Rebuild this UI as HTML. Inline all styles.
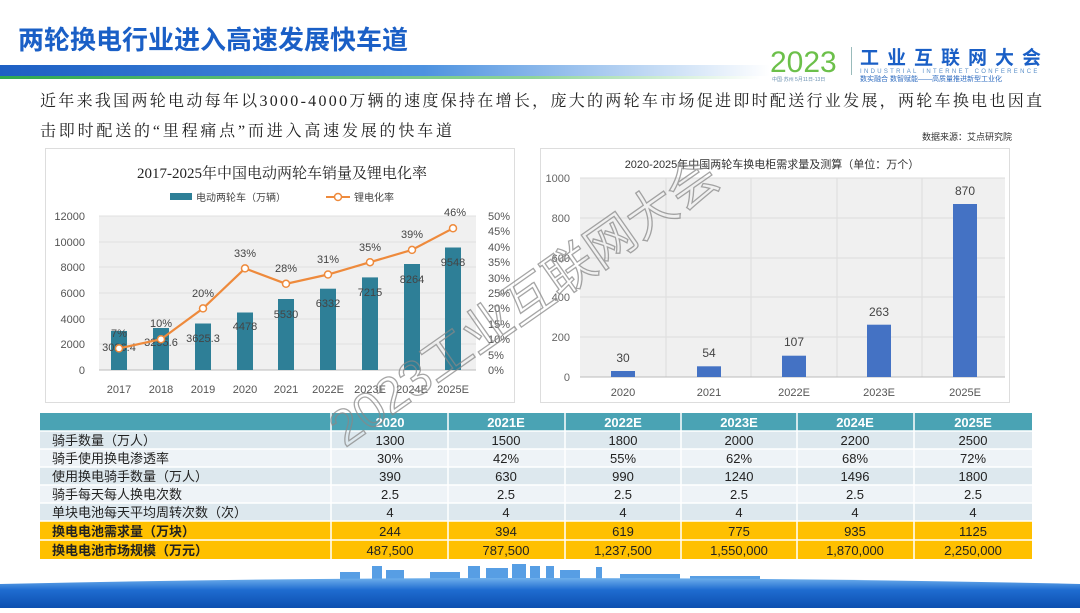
<!DOCTYPE html>
<html><head><meta charset="utf-8"><style>
body{margin:0;width:1080px;height:608px;overflow:hidden;background:#fff;font-family:"Liberation Sans","Noto Sans CJK SC",sans-serif}
</style></head><body>
<svg width="1080" height="608" viewBox="0 0 1080 608" xmlns="http://www.w3.org/2000/svg" font-family="Liberation Sans, Noto Sans CJK SC, sans-serif">
<defs>
<linearGradient id="hb" x1="0" x2="1"><stop offset="0" stop-color="#1d5fc4"/><stop offset="0.55" stop-color="#4d92e0"/><stop offset="1" stop-color="#fff"/></linearGradient>
<linearGradient id="gb" x1="0" x2="1"><stop offset="0" stop-color="#2fa84f"/><stop offset="0.7" stop-color="#8ed49a"/><stop offset="1" stop-color="#fff"/></linearGradient>
<linearGradient id="bot" x1="0" y1="0" x2="0" y2="1"><stop offset="0" stop-color="#6fb0ec"/><stop offset="0.4" stop-color="#1f6cd0"/><stop offset="1" stop-color="#0d4fb0"/></linearGradient>
</defs>
<text x="18" y="49" font-size="26" font-weight="bold" fill="#1a5fc6">两轮换电行业进入高速发展快车道</text>
<rect x="0" y="65" width="770" height="11" fill="url(#hb)"/>
<rect x="0" y="76" width="760" height="3" fill="url(#gb)"/>
<text x="770" y="72" font-size="30" fill="#6cc04a">2023</text>
<rect x="851" y="47" width="1" height="28" fill="#9bb"/>
<text x="860" y="64" font-size="19" font-weight="bold" fill="#1a5fc6" letter-spacing="8">工业互联网大会</text>
<text x="860" y="73" font-size="6" fill="#5a8fc8" letter-spacing="2.3">INDUSTRIAL INTERNET CONFERENCE</text>
<text x="860" y="81" font-size="7" fill="#2f6cc0">数实融合  数智赋能——高质量推进新型工业化</text>
<text x="772" y="81" font-size="5" fill="#6a8fb0">中国·苏州 5月11日-13日</text>
<text x="40" y="106" font-size="16" fill="#222" textLength="1002" lengthAdjust="spacing" font-family="Liberation Serif, Noto Serif CJK SC, serif">近年来我国两轮电动每年以3000-4000万辆的速度保持在增长，庞大的两轮车市场促进即时配送行业发展，两轮车换电也因直</text>
<text x="40" y="136" font-size="16" fill="#222" textLength="412" lengthAdjust="spacing" font-family="Liberation Serif, Noto Serif CJK SC, serif">击即时配送的“里程痛点”而进入高速发展的快车道</text>
<text x="922" y="140" font-size="9" fill="#333">数据来源：艾点研究院</text>

<!-- left chart -->
<rect x="45.5" y="148.5" width="469" height="254" fill="#fff" stroke="#ddd"/>
<rect x="99" y="216" width="377" height="154" fill="#f0f0f0"/>
<g stroke="#e0e0e0">
<line x1="99" x2="476" y1="216" y2="216"/><line x1="99" x2="476" y1="242" y2="242"/><line x1="99" x2="476" y1="267" y2="267"/><line x1="99" x2="476" y1="293" y2="293"/><line x1="99" x2="476" y1="319" y2="319"/><line x1="99" x2="476" y1="344" y2="344"/>
</g>
<line x1="99" x2="476" y1="370" y2="370" stroke="#bbb"/>
<text x="282" y="178" font-size="15" fill="#222" text-anchor="middle" font-family="Liberation Serif, Noto Serif CJK SC, serif">2017-2025年中国电动两轮车销量及锂电化率</text>
<rect x="170" y="193" width="22" height="7" fill="#2e7f97"/>
<text x="196" y="201" font-size="10" fill="#444">电动两轮车（万辆）</text>
<line x1="326" x2="350" y1="197" y2="197" stroke="#ee8a3c" stroke-width="2"/><circle cx="338" cy="197" r="3.5" fill="#fff" stroke="#ee8a3c" stroke-width="1.5"/>
<text x="354" y="201" font-size="10" fill="#444">锂电化率</text>
<g font-size="11" fill="#555" text-anchor="end">
<text x="85" y="220">12000</text><text x="85" y="246">10000</text><text x="85" y="271">8000</text><text x="85" y="297">6000</text><text x="85" y="323">4000</text><text x="85" y="348">2000</text><text x="85" y="374">0</text>
</g>
<g font-size="11" fill="#555">
<text x="488" y="220">50%</text><text x="488" y="235">45%</text><text x="488" y="251">40%</text><text x="488" y="266">35%</text><text x="488" y="282">30%</text><text x="488" y="297">25%</text><text x="488" y="312">20%</text><text x="488" y="328">15%</text><text x="488" y="343">10%</text><text x="488" y="359">5%</text><text x="488" y="374">0%</text>
</g>
<g fill="#2e7f97">
<rect x="111" y="331" width="16" height="39"/><rect x="153" y="328" width="16" height="42"/><rect x="195" y="323.5" width="16" height="46.5"/><rect x="237" y="312.5" width="16" height="57.5"/><rect x="278" y="299" width="16" height="71"/><rect x="320" y="288.7" width="16" height="81.3"/><rect x="362" y="277.4" width="16" height="92.6"/><rect x="404" y="264" width="16" height="106"/><rect x="445" y="247.5" width="16" height="122.5"/>
</g>
<g font-size="11" fill="#444" text-anchor="middle">
<text x="119" y="351">3026.4</text><text x="161" y="346">3295.6</text><text x="203" y="342">3625.3</text><text x="245" y="330">4478</text><text x="286" y="318">5530</text><text x="328" y="307">6332</text><text x="370" y="296">7215</text><text x="412" y="283">8264</text><text x="453" y="266">9548</text>
</g>
<polyline points="119,348.4 161,339.2 203,308.4 245,268.4 286,283.8 328,274.5 370,262.2 412,249.9 453,228.3" fill="none" stroke="#ee8a3c" stroke-width="2.2"/>
<g fill="#fff" stroke="#ee8a3c" stroke-width="1.5">
<circle cx="119" cy="348.4" r="3.5"/><circle cx="161" cy="339.2" r="3.5"/><circle cx="203" cy="308.4" r="3.5"/><circle cx="245" cy="268.4" r="3.5"/><circle cx="286" cy="283.8" r="3.5"/><circle cx="328" cy="274.5" r="3.5"/><circle cx="370" cy="262.2" r="3.5"/><circle cx="412" cy="249.9" r="3.5"/><circle cx="453" cy="228.3" r="3.5"/>
</g>
<g font-size="11" fill="#444" text-anchor="middle">
<text x="119" y="337">7%</text><text x="161" y="327">10%</text><text x="203" y="297">20%</text><text x="245" y="257">33%</text><text x="286" y="272">28%</text><text x="328" y="263">31%</text><text x="370" y="251">35%</text><text x="412" y="238">39%</text><text x="455" y="216">46%</text>
</g>
<g font-size="11" fill="#555" text-anchor="middle">
<text x="119" y="393">2017</text><text x="161" y="393">2018</text><text x="203" y="393">2019</text><text x="245" y="393">2020</text><text x="286" y="393">2021</text><text x="328" y="393">2022E</text><text x="370" y="393">2023E</text><text x="412" y="393">2024E</text><text x="453" y="393">2025E</text>
</g>

<!-- right chart -->
<rect x="540.5" y="148.5" width="469" height="254" fill="#fff" stroke="#ddd"/>
<rect x="580" y="178" width="425" height="199" fill="#f0f0f0"/>
<g stroke="#ddd">
<line x1="580" x2="1005" y1="178" y2="178"/><line x1="580" x2="1005" y1="218" y2="218"/><line x1="580" x2="1005" y1="258" y2="258"/><line x1="580" x2="1005" y1="297" y2="297"/><line x1="580" x2="1005" y1="337" y2="337"/>
<line x1="666" x2="666" y1="178" y2="377"/><line x1="751" x2="751" y1="178" y2="377"/><line x1="837" x2="837" y1="178" y2="377"/><line x1="922" x2="922" y1="178" y2="377"/>
</g>
<line x1="580" x2="1005" y1="377" y2="377" stroke="#bbb"/>
<text x="772" y="168" font-size="11" fill="#333" text-anchor="middle">2020-2025年中国两轮车换电柜需求量及测算（单位：万个）</text>
<g font-size="11" fill="#666" text-anchor="end">
<text x="570" y="182">1000</text><text x="570" y="222">800</text><text x="570" y="262">600</text><text x="570" y="301">400</text><text x="570" y="341">200</text><text x="570" y="381">0</text>
</g>
<g fill="#4472c4">
<rect x="611" y="371" width="24" height="6"/><rect x="697" y="366.3" width="24" height="10.7"/><rect x="782" y="355.7" width="24" height="21.3"/><rect x="867" y="324.7" width="24" height="52.3"/><rect x="953" y="204" width="24" height="173"/>
</g>
<g font-size="12" fill="#444" text-anchor="middle">
<text x="623" y="362">30</text><text x="709" y="357">54</text><text x="794" y="346">107</text><text x="879" y="316">263</text><text x="965" y="195">870</text>
</g>
<g font-size="11" fill="#555" text-anchor="middle">
<text x="623" y="396">2020</text><text x="709" y="396">2021</text><text x="794" y="396">2022E</text><text x="879" y="396">2023E</text><text x="965" y="396">2025E</text>
</g>

<!-- table -->
<rect x="40" y="413" width="992" height="18" fill="#4aa3b4"/>
<rect x="40" y="431" width="992" height="18" fill="#dde8ee"/>
<rect x="40" y="449" width="992" height="18" fill="#eef3f7"/>
<rect x="40" y="467" width="992" height="18" fill="#dde8ee"/>
<rect x="40" y="485" width="992" height="18" fill="#eef3f7"/>
<rect x="40" y="503" width="992" height="18" fill="#dde8ee"/>
<rect x="40" y="521" width="992" height="19" fill="#ffc000"/>
<rect x="40" y="540" width="992" height="19" fill="#ffc000"/>
<g stroke="#fff" stroke-width="1.5">
<line x1="331" x2="331" y1="413" y2="559"/><line x1="448" x2="448" y1="413" y2="559"/><line x1="565" x2="565" y1="413" y2="559"/><line x1="681" x2="681" y1="413" y2="559"/><line x1="797" x2="797" y1="413" y2="559"/><line x1="914" x2="914" y1="413" y2="559"/>
<line x1="40" x2="1032" y1="431" y2="431"/><line x1="40" x2="1032" y1="449" y2="449"/><line x1="40" x2="1032" y1="467" y2="467"/><line x1="40" x2="1032" y1="485" y2="485"/><line x1="40" x2="1032" y1="503" y2="503"/><line x1="40" x2="1032" y1="521" y2="521"/><line x1="40" x2="1032" y1="540" y2="540"/>
</g>
<g font-size="13" font-weight="bold" fill="#fff" text-anchor="middle">
<text x="390" y="427">2020</text><text x="506" y="427">2021E</text><text x="623" y="427">2022E</text><text x="739" y="427">2023E</text><text x="855" y="427">2024E</text><text x="973" y="427">2025E</text>
</g>
<g font-size="13" fill="#222">
<text x="52" y="445">骑手数量（万人）</text>
<text x="52" y="463">骑手使用换电渗透率</text>
<text x="52" y="481">使用换电骑手数量（万人）</text>
<text x="52" y="499">骑手每天每人换电次数</text>
<text x="52" y="517">单块电池每天平均周转次数（次）</text>
<text x="52" y="536" font-weight="bold">换电电池需求量（万块）</text>
<text x="52" y="555" font-weight="bold">换电电池市场规模（万元）</text>
</g>
<g font-size="13" fill="#222" text-anchor="middle">
<text x="390" y="445">1300</text><text x="506" y="445">1500</text><text x="623" y="445">1800</text><text x="739" y="445">2000</text><text x="855" y="445">2200</text><text x="973" y="445">2500</text>
<text x="390" y="463">30%</text><text x="506" y="463">42%</text><text x="623" y="463">55%</text><text x="739" y="463">62%</text><text x="855" y="463">68%</text><text x="973" y="463">72%</text>
<text x="390" y="481">390</text><text x="506" y="481">630</text><text x="623" y="481">990</text><text x="739" y="481">1240</text><text x="855" y="481">1496</text><text x="973" y="481">1800</text>
<text x="390" y="499">2.5</text><text x="506" y="499">2.5</text><text x="623" y="499">2.5</text><text x="739" y="499">2.5</text><text x="855" y="499">2.5</text><text x="973" y="499">2.5</text>
<text x="390" y="517">4</text><text x="506" y="517">4</text><text x="623" y="517">4</text><text x="739" y="517">4</text><text x="855" y="517">4</text><text x="973" y="517">4</text>
<text x="390" y="536">244</text><text x="506" y="536">394</text><text x="623" y="536">619</text><text x="739" y="536">775</text><text x="855" y="536">935</text><text x="973" y="536">1125</text>
<text x="390" y="555">487,500</text><text x="506" y="555">787,500</text><text x="623" y="555">1,237,500</text><text x="739" y="555">1,550,000</text><text x="855" y="555">1,870,000</text><text x="973" y="555">2,250,000</text>
</g>

<!-- bottom -->
<g fill="#3a8ee0" opacity="0.85">
<rect x="340" y="572" width="20" height="8"/><rect x="372" y="566" width="10" height="14"/><rect x="386" y="570" width="18" height="10"/><rect x="430" y="572" width="30" height="8"/><rect x="468" y="566" width="12" height="14"/><rect x="486" y="568" width="22" height="12"/><rect x="512" y="564" width="14" height="16"/><rect x="530" y="566" width="10" height="14"/><rect x="546" y="566" width="8" height="14"/><rect x="560" y="570" width="20" height="10"/><rect x="596" y="567" width="6" height="13"/><rect x="620" y="574" width="60" height="6"/><rect x="690" y="576" width="70" height="4"/>
</g>
<path d="M0 584 Q540 572 1080 584 L1080 608 L0 608 Z" fill="url(#bot)"/>

<!-- watermark -->
<text x="0" y="0" font-size="50" fill="none" stroke="#888" stroke-width="1.3" opacity="0.75" transform="translate(345,448) rotate(-35)">2023工业互联网大会</text>
</svg>
</body></html>
